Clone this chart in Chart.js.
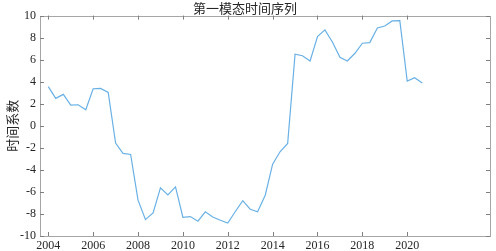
<!DOCTYPE html>
<html>
<head>
<meta charset="utf-8">
<script src="https://cdn.jsdelivr.net/npm/chart.js@4/dist/chart.umd.min.js"></script>
<style>
  html, body { margin: 0; padding: 0; background: #fff; }
  #wrap { width: 496px; height: 251px; }
</style>
</head>
<body>
<div id="wrap"><canvas id="chart"></canvas></div>
<script>
const lineColor = '#69b1e5';
const boxColor = '#a6a6a6';
const tickColor = '#7f7f7f';
const textColor = '#262626';
const serif = "'Liberation Serif', 'DejaVu Serif', serif";

// time axis (every 4 months)
const times = [
    2004.00, 2004.33, 2004.67, 2005.00, 2005.33, 2005.67, 2006.00, 2006.33, 2006.67,
    2007.00, 2007.33, 2007.67, 2008.00, 2008.33, 2008.67, 2009.00, 2009.33, 2009.67,
    2010.00, 2010.33, 2010.67, 2011.00, 2011.33, 2011.67, 2012.00, 2012.33, 2012.67,
    2013.00, 2013.33, 2013.67, 2014.00, 2014.33, 2014.67, 2015.00, 2015.33, 2015.67,
    2016.00, 2016.33, 2016.67, 2017.00, 2017.33, 2017.67, 2018.00, 2018.33, 2018.67,
    2019.00, 2019.33, 2019.67, 2020.00, 2020.33, 2020.67
];

// first mode time coefficients
const coeffs = [
    3.55, 2.49, 2.85, 1.88, 1.91, 1.45, 3.36, 3.39, 3.03,
    -1.57, -2.51, -2.60, -6.75, -8.51, -7.90, -5.63, -6.27, -5.54,
    -8.30, -8.24, -8.66, -7.80, -8.27, -8.57, -8.82, -7.80, -6.79,
    -7.57, -7.80, -6.30, -3.48, -2.36, -1.60, 6.49, 6.36, 5.88,
    8.09, 8.70, 7.58, 6.22, 5.88, 6.58, 7.49, 7.55, 8.88,
    9.06, 9.52, 9.55, 4.06, 4.36, 3.88
];

const xTicks = [2004, 2006, 2008, 2010, 2012, 2014, 2016, 2018, 2020];
const yTicks = [-10, -8, -6, -4, -2, 0, 2, 4, 6, 8, 10];

const points = times.map((t, i) => ({ x: t, y: coeffs[i] }));

// MATLAB-like box with inward ticks on all four sides
const boxPlugin = {
    id: 'box',
    afterDraw(chart) {
        const { ctx, chartArea: a, scales } = chart;
        ctx.save();
        ctx.lineWidth = 1;
        ctx.strokeStyle = boxColor;
        ctx.strokeRect(Math.round(a.left) + 0.5, Math.round(a.top) + 0.5,
            Math.round(a.right - a.left), Math.round(a.bottom - a.top));
        ctx.strokeStyle = tickColor;
        ctx.beginPath();
        xTicks.forEach(v => {
            const px = Math.round(scales.x.getPixelForValue(v)) + 0.5;
            ctx.moveTo(px, a.bottom); ctx.lineTo(px, a.bottom - 4);
            ctx.moveTo(px, a.top); ctx.lineTo(px, a.top + 4);
        });
        yTicks.forEach(v => {
            const py = Math.round(scales.y.getPixelForValue(v)) + 0.5;
            ctx.moveTo(a.left, py); ctx.lineTo(a.left + 4, py);
            ctx.moveTo(a.right, py); ctx.lineTo(a.right - 4, py);
        });
        ctx.stroke();
        ctx.restore();
    }
};

new Chart(document.getElementById('chart'), {
    type: 'line',
    data: {
        datasets: [{
            data: points,
            borderColor: lineColor,
            borderWidth: 1.2,
            pointRadius: 0,
            tension: 0,
            fill: false
        }]
    },
    options: {
        responsive: true,
        maintainAspectRatio: false,
        animation: false,
        layout: { padding: { left: 0, right: 6, top: 0, bottom: 0 } },
        plugins: {
            legend: { display: false },
            tooltip: { enabled: false },
            title: {
                display: true,
                text: '第一模态时间序列',
                color: textColor,
                font: { family: "'Noto Sans CJK SC', serif", size: 13, weight: 'normal', lineHeight: 1.2 },
                padding: { top: 0, bottom: 0 }
            }
        },
        scales: {
            x: {
                type: 'linear',
                min: 2003.63,
                max: 2023.69,
                afterBuildTicks: axis => { axis.ticks = xTicks.map(v => ({ value: v })); },
                afterFit: scale => { scale.height = 15; },
                grid: { display: false, drawTicks: false },
                border: { display: false },
                ticks: {
                    color: textColor,
                    padding: 3,
                    maxRotation: 0,
                    autoSkip: false,
                    font: { family: serif, size: 12 },
                    callback: v => String(v)
                }
            },
            y: {
                min: -10,
                max: 10,
                afterBuildTicks: axis => { axis.ticks = yTicks.map(v => ({ value: v })); },
                afterFit: scale => { scale.width = 40; },
                grid: { display: false, drawTicks: false },
                border: { display: false },
                ticks: {
                    color: textColor,
                    padding: 4,
                    autoSkip: false,
                    font: { family: serif, size: 12 }
                },
                title: {
                    display: true,
                    text: '时间系数',
                    color: textColor,
                    padding: { top: 4, bottom: 0 },
                    font: { family: "'Noto Sans CJK SC', serif", size: 13 }
                }
            }
        }
    },
    plugins: [boxPlugin]
});
</script>
</body>
</html>
